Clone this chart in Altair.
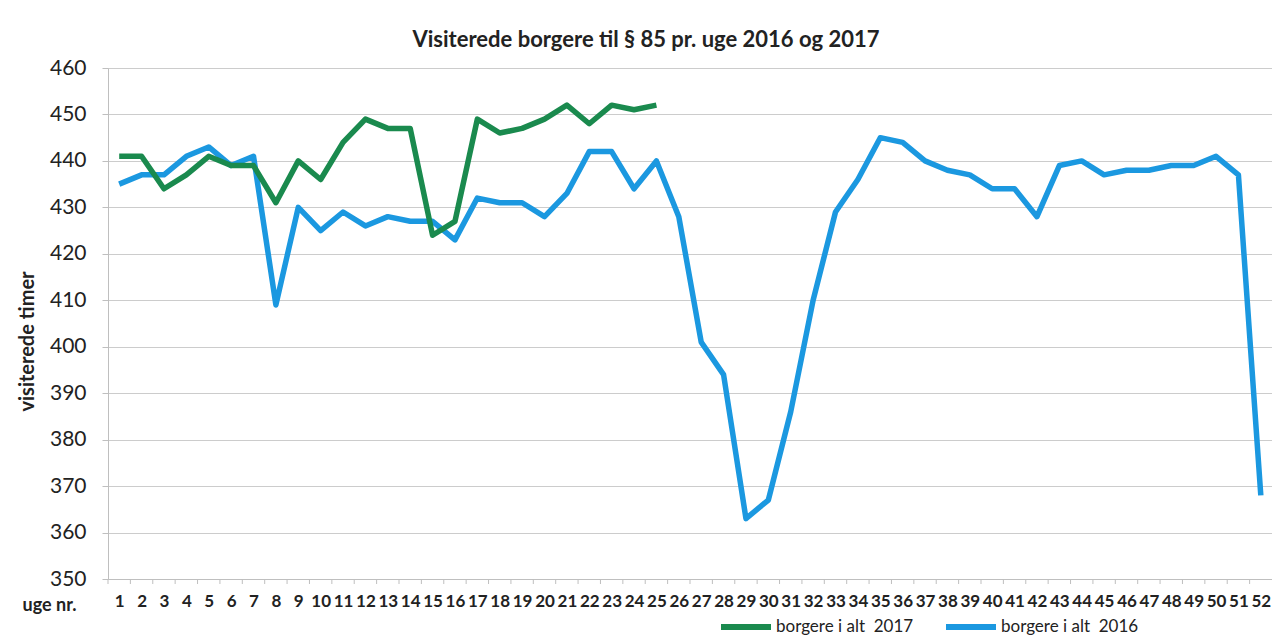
import altair as alt
import pandas as pd

weeks = list(range(1, 53))
series_2017_name = "borgere i alt\u00a0 2017"
series_2016_name = "borgere i alt\u00a0 2016"
values_2017 = [441, 441, 434, 437, 441, 439, 439, 431, 440, 436, 444, 449, 447, 447, 424,
               427, 449, 446, 447, 449, 452, 448, 452, 451, 452]
values_2016 = [435, 437, 437, 441, 443, 439, 441, 409, 430, 425, 429, 426, 428, 427, 427,
               423, 432, 431, 431, 428, 433, 442, 442, 434, 440, 428, 401, 394, 363, 367,
               386, 410, 429, 436, 445, 444, 440, 438, 437, 434, 434, 428, 439, 440, 437,
               438, 438, 439, 439, 441, 437, 368]
y_ticks = list(range(350, 461, 10))

rows = []
for w, v in zip(weeks, values_2016):
    rows.append({"uge": w, "timer": v, "serie": series_2016_name, "ord": 0})
for w, v in zip(weeks, values_2017):
    rows.append({"uge": w, "timer": v, "serie": series_2017_name, "ord": 1})
df = pd.DataFrame(rows)

boundaries = pd.DataFrame({"b": [w - 0.5 for w in weeks]})

FONT = "Lato"
GRAY = "#bfbfbf"
TXT = "#222222"

x_scale = alt.Scale(domain=[0.5, 52.5], nice=False, zero=False)
y_scale = alt.Scale(domain=[350, 460], nice=False, zero=False)

x_axis = alt.Axis(values=weeks, format="d", labelOverlap=False, labelBound=False,
                  labelFlush=False, ticks=False, grid=False,
                  domainColor=GRAY, labelFontSize=17, labelFontWeight="bold",
                  labelColor=TXT, labelPadding=14, labelFont=FONT,
                  title="uge nr.", titleFont=FONT, titleFontSize=18, titleFontWeight="bold",
                  titleColor=TXT, titleX=-86, titleY=26, titleAlign="left",
                  titleBaseline="middle")

lines = alt.Chart(df).mark_line(strokeWidth=5.5, strokeJoin="round").encode(
    x=alt.X("uge:Q", scale=x_scale, axis=x_axis),
    y=alt.Y("timer:Q", scale=y_scale,
            axis=alt.Axis(values=y_ticks, grid=True, gridColor="#cccccc", domainColor=GRAY,
                          tickColor=GRAY, tickSize=6, labelFontSize=21, labelColor=TXT,
                          labelPadding=16, labelFont=FONT,
                          title="visiterede timer", titleFont=FONT, titleFontSize=20,
                          titleFontWeight="bold", titleColor=TXT, titleX=-81, titleY=273,
                          titleAngle=-90, titleAlign="center", titleBaseline="middle")),
    color=alt.Color("serie:N",
                    scale=alt.Scale(domain=[series_2017_name, series_2016_name],
                                    range=["#1a8a4e", "#1b98e0"]),
                    legend=alt.Legend(title=None, orient="none", direction="horizontal",
                                      legendX=610, legendY=531, symbolType="stroke",
                                      symbolSize=2500, symbolStrokeWidth=6,
                                      labelFontSize=17, labelFont=FONT, labelColor=TXT,
                                      labelOffset=2, columnPadding=20)),
    order=alt.Order("ord:Q"),
    detail="serie:N",
)

ticks = alt.Chart(boundaries).mark_rule(color=GRAY, strokeWidth=1).encode(
    x=alt.X("b:Q", scale=x_scale, axis=x_axis),
    y=alt.value(511),
    y2=alt.value(516),
)

chart = alt.layer(lines, ticks).properties(
    width=1164,
    height=511,
    autosize=alt.AutoSizeParams(type="none"),
    padding={"left": 100, "top": 60, "right": 0, "bottom": 57},
    title=alt.TitleParams("Visiterede borgere til § 85 pr. uge 2016 og 2017", font=FONT,
                          fontSize=22, fontWeight="bold", color=TXT, anchor="middle",
                          dx=-44, offset=5),
).configure_view(stroke=None).configure(font=FONT).configure_axisX(labelOverlap=False)

chart.save("out.html", embed_options={"renderer": "svg", "actions": False})
